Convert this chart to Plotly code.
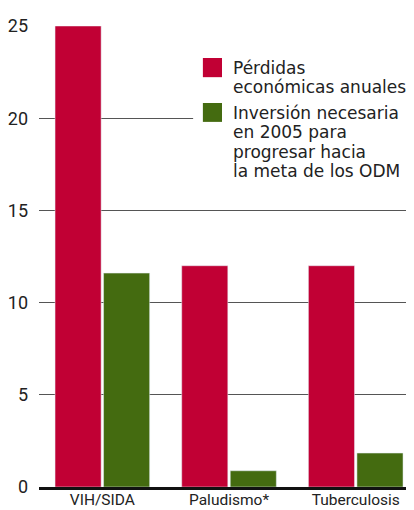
import plotly.graph_objects as go

# data (miles de millones US$)
categorias = ["VIH/SIDA", "Paludismo*", "Tuberculosis"]
perdidas = [25, 12, 12]
inversion = [11.6, 0.88, 1.84]
leyenda = [["Pérdidas", "económicas anuales"],
           ["Inversión necesaria", "en 2005 para", "progresar hacia",
            "la meta de los ODM"]]

rojo = "#C10034"
verde = "#446B10"
fuente = "Roboto"
fuente_ley = "DejaVu Sans"

fig = go.Figure()
fig.add_trace(go.Bar(x=categorias, y=perdidas, marker_color=rojo,
                     name=" ".join(leyenda[0])))
fig.add_trace(go.Bar(x=categorias, y=inversion, marker_color=verde,
                     name=" ".join(leyenda[1])))

# hand-made legend, swatches bigger than plotly's own
fig.add_shape(type="rect", xref="paper", yref="paper", x0=0.411, x1=1.0,
              y0=0.66, y1=0.95, fillcolor="white", line_width=0, layer="above")
cuadros = [(0.889, 0.9306), (0.792, 0.833)]
lineas_y = [[0.9089, 0.8677], [0.8113, 0.7701, 0.7267, 0.6855]]
for col, (y0, y1), textos, ys in zip([rojo, verde], cuadros, leyenda, lineas_y):
    fig.add_shape(type="rect", xref="paper", yref="paper",
                  x0=0.437, x1=0.488, y0=y0, y1=y1,
                  fillcolor=col, line_width=0, layer="above")
    for t, y in zip(textos, ys):
        fig.add_annotation(x=0.512, y=y, xref="paper", yref="paper", text=t,
                           showarrow=False, xanchor="left", yanchor="middle",
                           font=dict(family=fuente_ley, size=17, color="#222"))

# the page adds an 8px body margin, so the figure is 8px smaller
fig.update_layout(
    width=406, height=502,
    margin=dict(l=31, r=0, t=18, b=23),
    paper_bgcolor="white", plot_bgcolor="white",
    barmode="group", bargap=0.234, bargroupgap=0.05,
    font=dict(family=fuente, color="#222"),
    showlegend=False,
)
fig.update_xaxes(range=[-0.5, 2.46], showgrid=False, showline=True,
                 linecolor="#111", linewidth=3, ticks="", automargin=False,
                 tickfont=dict(size=15.5), ticklabelstandoff=-4)
fig.update_yaxes(range=[0, 25], tickvals=[0, 5, 10, 15, 20, 25],
                 showgrid=True, gridcolor="#555", gridwidth=1,
                 zeroline=False, showline=False, ticks="", automargin=False,
                 tickfont=dict(size=18), ticklabelstandoff=10)

fig.write_html("out.html")
